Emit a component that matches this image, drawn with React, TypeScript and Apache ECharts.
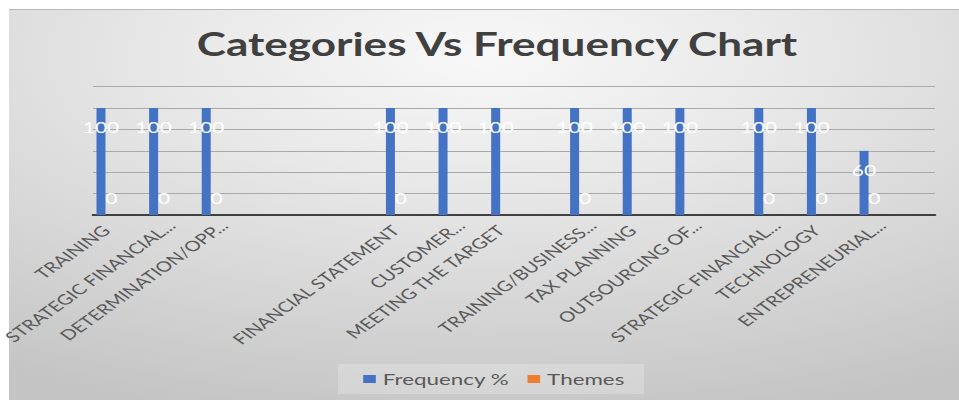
import React, { useEffect, useRef } from "react";
import * as echarts from "echarts";

// ---- data ----
const categories: string[] = [
  "TRAINING", "", "STRATEGIC FINANCIAL...", "", "DETERMINATION/OPP...", "", "", "", "", "", "",
  "FINANCIAL STATEMENT", "", "CUSTOMER...", "", "MEETING THE TARGET", "", "",
  "TRAINING/BUSINESS...", "", "TAX PLANNING", "", "OUTSOURCING OF...", "", "",
  "STRATEGIC FINANCIAL...", "", "TECHNOLOGY", "", "ENTREPRENEURIAL...", "", "",
];
const frequency: (number | null)[] = [
  100, null, 100, null, 100, null, null, null, null, null, null,
  100, null, 100, null, 100, null, null,
  100, null, 100, null, 100, null, null,
  100, null, 100, null, 60, null, null,
];
const themes: (number | null)[] = [
  0, null, 0, null, 0, null, null, null, null, null, null,
  0, null, null, null, null, null, null,
  0, null, null, null, null, null, null,
  0, null, 0, null, 0, null, null,
];
const yTicks = { min: 0, max: 120, interval: 20 };
const titleText = "Categories Vs Frequency Chart";
const seriesNames = ["Frequency %", "Themes"];

// horizontal stretch of the original picture
const S = 1.4;
const W = 959;
const H = 400;
const IW = W / S;

export default function App() {
  const ref = useRef<HTMLDivElement>(null);
  useEffect(() => {
    if (!ref.current) return;
    const chart = echarts.init(ref.current, null, { renderer: "svg" });
    const font = "Lato";
    const labelSize = 14.5;
    const labelFont = { fontFamily: font, fontSize: labelSize, color: "#595959" };
    const ctx = document.createElement("canvas").getContext("2d");
    const measure = (t: string) => {
      if (!ctx) return t.length * labelSize * 0.6;
      ctx.font = `${labelSize}px ${font}`;
      return ctx.measureText(t).width;
    };
    const rich: Record<string, any> = {};
    categories.forEach((c, i) => {
      if (c.endsWith("...")) {
        rich["e" + i] = {
          ...labelFont,
          width: Math.max(1, measure(c) - 10),
          align: "left",
          padding: [6, 0, 0, 0],
        };
      }
    });
    chart.setOption({
      animation: false,
      backgroundColor: "#ffffff",
      graphic: [
        {
          type: "rect",
          z: -10,
          silent: true,
          shape: { x: 9 / S, y: 9, width: IW - 9 / S, height: H - 9 },
          style: {
            fill: {
              type: "radial",
              x: 0.5,
              y: 0.12,
              r: 0.95,
              colorStops: [
                { offset: 0, color: "#f8f8f8" },
                { offset: 0.35, color: "#e8e8e8" },
                { offset: 1, color: "#c4c4c4" },
              ],
            },
          },
        },
        {
          type: "line",
          z: -9,
          silent: true,
          shape: { x1: 9 / S, y1: 9.5, x2: IW, y2: 9.5 },
          style: { stroke: "#b8b8b8", lineWidth: 1 },
        },
      ],
      title: {
        text: titleText,
        left: 490 / S,
        textAlign: "center",
        top: 23,
        textStyle: {
          fontFamily: font,
          fontWeight: "bold",
          fontSize: 31.5,
          color: "#404040",
        },
      },
      legend: {
        data: seriesNames,
        left: 338 / S,
        top: 364,
        padding: [7, 14, 7, 18],
        itemGap: 13,
        itemWidth: 9,
        itemHeight: 8,
        icon: "rect",
        backgroundColor: "rgba(255,255,255,0.22)",
        textStyle: { fontFamily: font, fontSize: 16, color: "#595959" },
      },
      grid: {
        left: 93 / S,
        right: (W - 935) / S,
        top: 86.7,
        bottom: H - 215,
        containLabel: false,
        outerBoundsMode: "none",
      },
      xAxis: {
        type: "category",
        data: categories,
        axisLine: { lineStyle: { color: "#404040", width: 2 } },
        axisTick: { show: false },
        axisLabel: {
          interval: 0,
          rotate: 45,
          margin: 13,
          ...labelFont,
          formatter: (v: string, i: number) =>
            rich["e" + i] ? `{e${i}|${v}}` : v,
          rich,
        },
      },
      yAxis: {
        type: "value",
        min: yTicks.min,
        max: yTicks.max,
        interval: yTicks.interval,
        axisLabel: { show: false },
        axisLine: { show: false },
        axisTick: { show: false },
        splitLine: { lineStyle: { color: "#a9a9a9", width: 1 } },
      },
      series: [
        {
          name: seriesNames[0],
          type: "bar",
          data: frequency,
          barWidth: 9 / S,
          barGap: "15%",
          itemStyle: { color: "#4472C4" },
          label: {
            show: true,
            position: "insideTop",
            distance: 12,
            color: "#ffffff",
            fontFamily: font,
            fontSize: 15,
          },
        },
        {
          name: seriesNames[1],
          type: "bar",
          data: themes,
          barWidth: 9 / S,
          barGap: "15%",
          itemStyle: { color: "#ED7D31" },
          label: {
            show: true,
            position: "top",
            distance: 9,
            color: "#ffffff",
            fontFamily: font,
            fontSize: 15,
          },
        },
      ],
    });
    return () => chart.dispose();
  }, []);
  return (
    <div
      style={{
        position: "fixed",
        left: 0,
        top: 0,
        width: W,
        height: H,
        overflow: "hidden",
        background: "#fff",
      }}
    >
      <div
        ref={ref}
        style={{
          width: IW,
          height: H,
          transform: `scaleX(${S})`,
          transformOrigin: "0 0",
        }}
      />
    </div>
  );
}
